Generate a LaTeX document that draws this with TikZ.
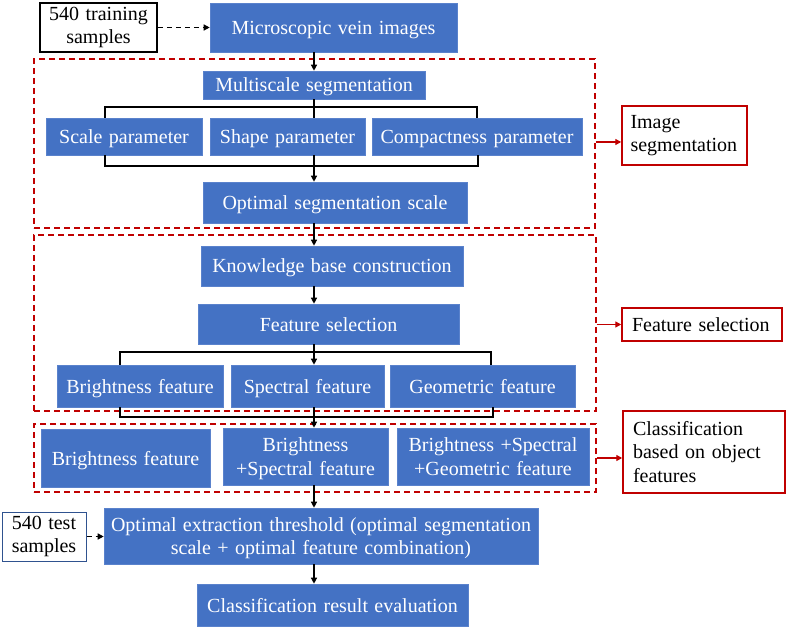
\documentclass[tikz,border=0pt]{standalone}
\usepackage{fontspec}
\setmainfont{Liberation Serif}
\usetikzlibrary{arrows.meta}
\definecolor{boxblue}{HTML}{4472C4}
\definecolor{boxedge}{HTML}{5A82CC}
\definecolor{dred}{HTML}{C00000}
\definecolor{testedge}{HTML}{2F528F}
\newcommand{\diagfont}{\fontsize{20}{23.5}\selectfont\spaceskip=0.32em\relax}
\newcommand{\topstrut}{\rule{0pt}{18.5pt}}
\newcommand{\botstrut}{\rule[-4.5pt]{0pt}{4.5pt}}
\begin{document}
\begin{tikzpicture}[x=1pt,y={(0pt,-1pt)},
  txt/.style={font=\diagfont},
  bbox/.style={txt, fill=boxblue, draw=boxedge, line width=0.6pt, text=white, align=center, inner sep=0pt},
  wbox/.style={txt, fill=white, draw=black, line width=1.5pt, align=center, inner sep=0pt},
  lbl/.style={txt, fill=white, draw=dred, line width=1.5pt, align=left, inner sep=0pt},
  regbox/.style={draw=dred, line width=1.6pt, dash pattern=on 6pt off 4pt, inner sep=0pt},
  conn/.style={line width=1.4pt},
  arr/.style={line width=1.3pt, -{Triangle[length=6pt,width=6pt]}},
  dasharr/.style={arr, dash pattern=on 5pt off 4pt},
  redarr/.style={draw=dred, line width=1.3pt, -{Triangle[length=6pt,width=6pt]}, fill=dred}
]
\path[use as bounding box] (0,0) rectangle (787,628);

% red region boxes
\node[regbox, minimum width=561pt, minimum height=169pt] (R1) at (314.5,143.5) {};
\node[regbox, minimum width=562pt, minimum height=176pt] (R2) at (315,323) {};
\node[regbox, minimum width=562pt, minimum height=68pt] (R3) at (315,458) {};

% top
\node[wbox, minimum width=117pt, minimum height=49pt] (train) at (98.5,27.5) {540 training\\samples};
\node[bbox, minimum width=247pt, minimum height=49pt] (micro) at (333.5,27.5) {\topstrut Microscopic vein images\botstrut};

% segmentation
\node[bbox, minimum width=222pt, minimum height=28pt] (multi) at (314,85) {\topstrut Multiscale segmentation\botstrut};
\node[bbox, minimum width=156pt, minimum height=37pt] (scalep) at (124,136.5) {\topstrut Scale parameter\botstrut};
\node[bbox, minimum width=155pt, minimum height=37pt] (shapep) at (287.5,136.5) {\topstrut Shape parameter\botstrut};
\node[bbox, minimum width=210pt, minimum height=37pt] (compp) at (477,136.5) {\topstrut Compactness parameter\botstrut};
\node[bbox, minimum width=264pt, minimum height=41pt] (optseg) at (335,202.5) {\topstrut Optimal segmentation scale\botstrut};

% feature selection
\node[bbox, minimum width=262pt, minimum height=40pt] (kb) at (332,266) {\topstrut Knowledge base construction\botstrut};
\node[bbox, minimum width=261pt, minimum height=40pt] (fsel) at (328.5,324) {\topstrut Feature selection\botstrut};
\node[bbox, minimum width=166pt, minimum height=42pt] (bf) at (140,386) {\topstrut Brightness feature\botstrut};
\node[bbox, minimum width=153pt, minimum height=42pt] (sf) at (307.5,386) {\topstrut Spectral feature\botstrut};
\node[bbox, minimum width=185pt, minimum height=42pt] (gf) at (482.5,386) {\topstrut Geometric feature\botstrut};

% classification
\node[bbox, minimum width=169pt, minimum height=58pt] (c1) at (125.5,458) {\topstrut Brightness feature\botstrut};
\node[bbox, minimum width=165pt, minimum height=57pt] (c2) at (305.5,456.5) {\topstrut Brightness\\+Spectral feature\botstrut};
\node[bbox, minimum width=192pt, minimum height=57pt] (c3) at (493,456.5) {\topstrut Brightness +Spectral\\+Geometric feature\botstrut};

% bottom
\node[wbox, draw=testedge, line width=1pt, minimum width=84pt, minimum height=49pt] (test) at (44,536.5) {540 test\\samples};
\node[bbox, minimum width=434pt, minimum height=56pt] (oet) at (321,536) {\topstrut Optimal extraction threshold (optimal segmentation\\scale + optimal feature combination)\botstrut};
\node[bbox, minimum width=271pt, minimum height=42pt] (cre) at (332.5,605) {\topstrut Classification result evaluation\botstrut};

% right labels
\node[lbl, minimum width=125pt, minimum height=59pt, text width=108pt] (L1) at (684.5,135.5) {Image\\segmentation};
\node[lbl, minimum width=160pt, minimum height=33pt, text width=140pt] (L2) at (702,324.5) {Feature selection};
\node[lbl, minimum width=162pt, minimum height=82pt, text width=142pt] (L3) at (704,452) {Classification\\based on object\\features};

% coordinates for brackets
\coordinate (t1l) at (105,107);
\coordinate (t1r) at (477,107);
\coordinate (b1l) at (105,166);
\coordinate (b1r) at (478,166);
\coordinate (t2l) at (120,352);
\coordinate (t2r) at (491,352);
\coordinate (b2l) at (120,417);
\coordinate (b2r) at (493,417);
\coordinate (mx) at (314,0);

% connectors
\draw[dasharr] (train.east) -- (micro.west);
\draw[arr] (mx |- micro.south) -- (mx |- multi.north);

\draw[conn] (mx |- multi.south) -- (mx |- shapep.north);
\draw[conn] (t1l |- scalep.north) -- (t1l) -- (t1r) -- (t1r |- compp.north);
\draw[conn] (b1l |- scalep.south) -- (b1l) -- (b1r) -- (b1r |- compp.south);
\draw[arr] (mx |- shapep.south) -- (mx |- optseg.north);

\draw[arr] (mx |- optseg.south) -- (mx |- kb.north);
\draw[arr] (mx |- kb.south) -- (mx |- fsel.north);
\draw[arr] (mx |- fsel.south) -- (mx |- sf.north);
\draw[conn] (t2l |- bf.north) -- (t2l) -- (t2r) -- (t2r |- gf.north);
\draw[conn] (b2l |- bf.south) -- (b2l) -- (b2r) -- (b2r |- gf.south);
\draw[arr] (mx |- sf.south) -- (mx |- c2.north);

\draw[arr] (mx |- c2.south) -- (mx |- oet.north);
\draw[dasharr] (test.east) -- (test.east -| oet.west);
\draw[arr] (mx |- oet.south) -- (mx |- cre.north);

% red arrows
\coordinate (a1) at (0,142);
\draw[redarr] (R1.east |- a1) -- (L1.west |- a1);
\draw[redarr] (R2.east |- L2.west) -- (L2.west);
\draw[redarr] (R3.east) -- (L3.west |- R3.east);
\end{tikzpicture}
\end{document}
